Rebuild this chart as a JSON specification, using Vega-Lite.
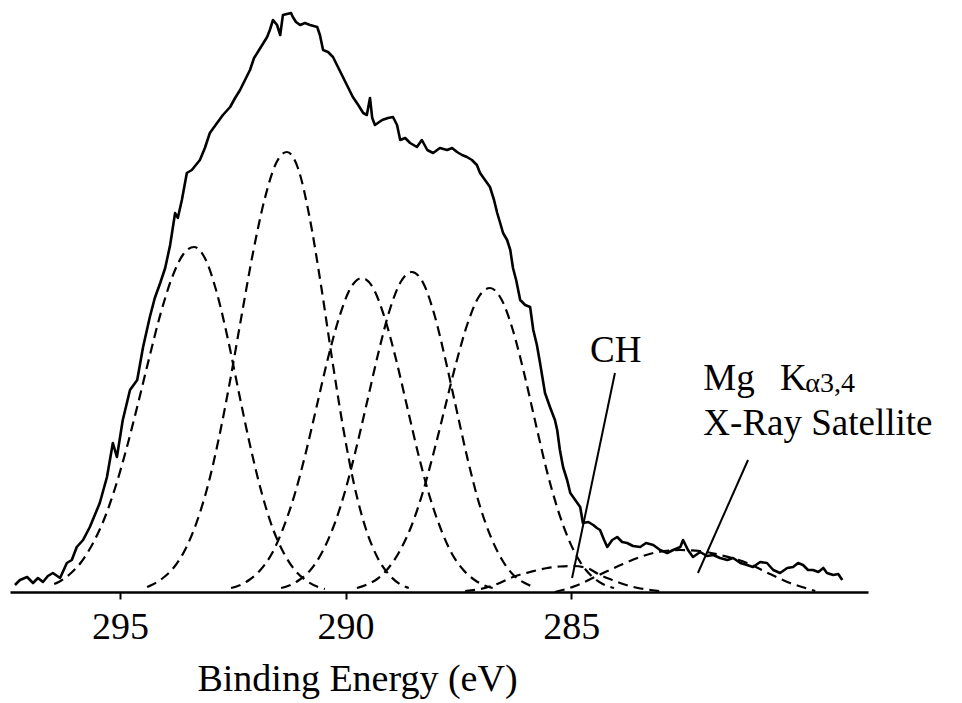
{
  "$schema": "https://vega.github.io/schema/vega-lite/v6.json",
  "width": 858,
  "height": 592,
  "autosize": {"type": "none"},
  "padding": {"left": 10, "top": 0, "right": 94, "bottom": 111},
  "background": "white",
  "config": {"view": {"stroke": null}, "font": "Liberation Serif"},
  "datasets": {
    "spectrum": [
      {"E":297.33,"I":7},{"E":297.22,"I":12},{"E":297.06,"I":15},{"E":296.93,"I":9},{"E":296.82,"I":14},{"E":296.71,"I":10},{"E":296.60,"I":16},{"E":296.49,"I":19},{"E":296.33,"I":14},{"E":296.18,"I":29},{"E":296.07,"I":32},{"E":295.96,"I":45},{"E":295.82,"I":52},{"E":295.67,"I":65},{"E":295.56,"I":77},{"E":295.45,"I":89},{"E":295.29,"I":115},{"E":295.16,"I":149},{"E":295.07,"I":135},{"E":294.94,"I":172},{"E":294.78,"I":202},{"E":294.62,"I":212},{"E":294.49,"I":245},{"E":294.34,"I":275},{"E":294.23,"I":294},{"E":294.11,"I":309},{"E":294.00,"I":324},{"E":293.89,"I":347},{"E":293.78,"I":379},{"E":293.72,"I":374},{"E":293.63,"I":392},{"E":293.52,"I":419},{"E":293.41,"I":422},{"E":293.23,"I":432},{"E":293.12,"I":444},{"E":293.01,"I":459},{"E":292.85,"I":469},{"E":292.72,"I":477},{"E":292.56,"I":485},{"E":292.45,"I":494},{"E":292.34,"I":502},{"E":292.23,"I":512},{"E":292.12,"I":522},{"E":292.03,"I":534},{"E":291.96,"I":539},{"E":291.85,"I":547},{"E":291.74,"I":555},{"E":291.68,"I":562},{"E":291.61,"I":572},{"E":291.52,"I":567},{"E":291.45,"I":557},{"E":291.39,"I":577},{"E":291.30,"I":578},{"E":291.21,"I":579},{"E":291.17,"I":575},{"E":291.10,"I":570},{"E":291.01,"I":567},{"E":290.90,"I":569},{"E":290.79,"I":567},{"E":290.63,"I":565},{"E":290.57,"I":557},{"E":290.50,"I":542},{"E":290.39,"I":540},{"E":290.28,"I":535},{"E":290.17,"I":525},{"E":290.06,"I":515},{"E":289.95,"I":505},{"E":289.84,"I":495},{"E":289.72,"I":487},{"E":289.61,"I":479},{"E":289.53,"I":477},{"E":289.46,"I":494},{"E":289.41,"I":474},{"E":289.35,"I":467},{"E":289.19,"I":472},{"E":289.06,"I":474},{"E":288.95,"I":475},{"E":288.86,"I":467},{"E":288.79,"I":452},{"E":288.68,"I":454},{"E":288.57,"I":449},{"E":288.42,"I":445},{"E":288.31,"I":452},{"E":288.19,"I":442},{"E":288.06,"I":439},{"E":287.91,"I":444},{"E":287.75,"I":442},{"E":287.64,"I":444},{"E":287.53,"I":440},{"E":287.42,"I":437},{"E":287.31,"I":435},{"E":287.20,"I":432},{"E":287.09,"I":427},{"E":287.02,"I":419},{"E":286.91,"I":412},{"E":286.80,"I":405},{"E":286.71,"I":392},{"E":286.64,"I":379},{"E":286.58,"I":370},{"E":286.51,"I":359},{"E":286.42,"I":352},{"E":286.35,"I":342},{"E":286.29,"I":324},{"E":286.22,"I":312},{"E":286.13,"I":292},{"E":286.02,"I":287},{"E":285.91,"I":285},{"E":285.84,"I":262},{"E":285.76,"I":247},{"E":285.69,"I":229},{"E":285.58,"I":199},{"E":285.47,"I":185},{"E":285.36,"I":172},{"E":285.31,"I":162},{"E":285.25,"I":142},{"E":285.18,"I":125},{"E":285.09,"I":112},{"E":285.02,"I":99},{"E":284.91,"I":92},{"E":284.80,"I":85},{"E":284.74,"I":69},{"E":284.62,"I":70},{"E":284.51,"I":67},{"E":284.43,"I":64},{"E":284.36,"I":62},{"E":284.27,"I":52},{"E":284.20,"I":45},{"E":284.09,"I":52},{"E":283.98,"I":55},{"E":283.87,"I":50},{"E":283.76,"I":49},{"E":283.63,"I":46},{"E":283.47,"I":45},{"E":283.34,"I":49},{"E":283.18,"I":47},{"E":283.03,"I":42},{"E":282.87,"I":39},{"E":282.74,"I":42},{"E":282.58,"I":45},{"E":282.52,"I":52},{"E":282.41,"I":42},{"E":282.30,"I":35},{"E":282.14,"I":40},{"E":281.99,"I":36},{"E":281.85,"I":37},{"E":281.70,"I":34},{"E":281.54,"I":32},{"E":281.41,"I":34},{"E":281.25,"I":29},{"E":281.10,"I":27},{"E":280.97,"I":25},{"E":280.81,"I":30},{"E":280.66,"I":29},{"E":280.52,"I":22},{"E":280.37,"I":19},{"E":280.21,"I":24},{"E":280.08,"I":25},{"E":279.97,"I":29},{"E":279.86,"I":27},{"E":279.75,"I":22},{"E":279.64,"I":22},{"E":279.52,"I":20},{"E":279.41,"I":24},{"E":279.33,"I":19},{"E":279.19,"I":17},{"E":279.08,"I":18},{"E":278.99,"I":12}
    ],
    "components": [
      {"peak":"C1","E":296.46,"I":8},{"peak":"C1","E":296.36,"I":10},{"peak":"C1","E":296.11,"I":18},{"peak":"C1","E":295.86,"I":30},{"peak":"C1","E":295.61,"I":48},{"peak":"C1","E":295.36,"I":72},{"peak":"C1","E":295.11,"I":104},{"peak":"C1","E":294.86,"I":143},{"peak":"C1","E":294.61,"I":187},{"peak":"C1","E":294.36,"I":233},{"peak":"C1","E":294.11,"I":277},{"peak":"C1","E":293.86,"I":313},{"peak":"C1","E":293.61,"I":337},{"peak":"C1","E":293.36,"I":345},{"peak":"C1","E":293.11,"I":333},{"peak":"C1","E":292.86,"I":300},{"peak":"C1","E":292.61,"I":253},{"peak":"C1","E":292.36,"I":198},{"peak":"C1","E":292.11,"I":145},{"peak":"C1","E":291.86,"I":99},{"peak":"C1","E":291.61,"I":63},{"peak":"C1","E":291.36,"I":38},{"peak":"C1","E":291.11,"I":21},{"peak":"C1","E":290.86,"I":11},{"peak":"C1","E":290.61,"I":5},{"peak":"C1","E":290.46,"I":3},
      {"peak":"C2","E":294.40,"I":5},{"peak":"C2","E":294.30,"I":7},{"peak":"C2","E":294.05,"I":14},{"peak":"C2","E":293.80,"I":25},{"peak":"C2","E":293.55,"I":43},{"peak":"C2","E":293.30,"I":70},{"peak":"C2","E":293.05,"I":107},{"peak":"C2","E":292.80,"I":156},{"peak":"C2","E":292.55,"I":214},{"peak":"C2","E":292.30,"I":278},{"peak":"C2","E":292.05,"I":340},{"peak":"C2","E":291.80,"I":392},{"peak":"C2","E":291.55,"I":428},{"peak":"C2","E":291.30,"I":440},{"peak":"C2","E":291.05,"I":423},{"peak":"C2","E":290.80,"I":375},{"peak":"C2","E":290.55,"I":308},{"peak":"C2","E":290.30,"I":233},{"peak":"C2","E":290.05,"I":163},{"peak":"C2","E":289.80,"I":105},{"peak":"C2","E":289.55,"I":63},{"peak":"C2","E":289.30,"I":35},{"peak":"C2","E":289.05,"I":18},{"peak":"C2","E":288.80,"I":8},{"peak":"C2","E":288.60,"I":4},
      {"peak":"C3","E":292.54,"I":4},{"peak":"C3","E":292.39,"I":6},{"peak":"C3","E":292.14,"I":12},{"peak":"C3","E":291.89,"I":22},{"peak":"C3","E":291.64,"I":38},{"peak":"C3","E":291.39,"I":63},{"peak":"C3","E":291.14,"I":96},{"peak":"C3","E":290.89,"I":138},{"peak":"C3","E":290.64,"I":186},{"peak":"C3","E":290.39,"I":234},{"peak":"C3","E":290.14,"I":275},{"peak":"C3","E":289.89,"I":304},{"peak":"C3","E":289.64,"I":314},{"peak":"C3","E":289.39,"I":304},{"peak":"C3","E":289.14,"I":275},{"peak":"C3","E":288.89,"I":234},{"peak":"C3","E":288.64,"I":186},{"peak":"C3","E":288.39,"I":138},{"peak":"C3","E":288.14,"I":96},{"peak":"C3","E":287.89,"I":63},{"peak":"C3","E":287.64,"I":38},{"peak":"C3","E":287.39,"I":22},{"peak":"C3","E":287.14,"I":12},{"peak":"C3","E":286.89,"I":6},{"peak":"C3","E":286.74,"I":4},
      {"peak":"C4","E":291.43,"I":4},{"peak":"C4","E":291.28,"I":6},{"peak":"C4","E":291.03,"I":12},{"peak":"C4","E":290.78,"I":22},{"peak":"C4","E":290.53,"I":39},{"peak":"C4","E":290.28,"I":64},{"peak":"C4","E":290.03,"I":98},{"peak":"C4","E":289.78,"I":141},{"peak":"C4","E":289.53,"I":189},{"peak":"C4","E":289.28,"I":238},{"peak":"C4","E":289.03,"I":281},{"peak":"C4","E":288.78,"I":310},{"peak":"C4","E":288.53,"I":320},{"peak":"C4","E":288.28,"I":309},{"peak":"C4","E":288.03,"I":277},{"peak":"C4","E":287.78,"I":231},{"peak":"C4","E":287.53,"I":180},{"peak":"C4","E":287.28,"I":130},{"peak":"C4","E":287.03,"I":87},{"peak":"C4","E":286.78,"I":55},{"peak":"C4","E":286.53,"I":32},{"peak":"C4","E":286.28,"I":17},{"peak":"C4","E":286.03,"I":9},{"peak":"C4","E":285.83,"I":5},
      {"peak":"C5","E":289.75,"I":4},{"peak":"C5","E":289.55,"I":7},{"peak":"C5","E":289.30,"I":13},{"peak":"C5","E":289.05,"I":24},{"peak":"C5","E":288.80,"I":41},{"peak":"C5","E":288.55,"I":65},{"peak":"C5","E":288.30,"I":98},{"peak":"C5","E":288.05,"I":139},{"peak":"C5","E":287.80,"I":184},{"peak":"C5","E":287.55,"I":229},{"peak":"C5","E":287.30,"I":268},{"peak":"C5","E":287.05,"I":295},{"peak":"C5","E":286.80,"I":304},{"peak":"C5","E":286.55,"I":293},{"peak":"C5","E":286.30,"I":263},{"peak":"C5","E":286.05,"I":220},{"peak":"C5","E":285.80,"I":171},{"peak":"C5","E":285.55,"I":123},{"peak":"C5","E":285.30,"I":83},{"peak":"C5","E":285.05,"I":52},{"peak":"C5","E":284.80,"I":30},{"peak":"C5","E":284.55,"I":16},{"peak":"C5","E":284.30,"I":8},{"peak":"C5","E":284.05,"I":4},
      {"peak":"CH","E":287.35,"I":1},{"peak":"CH","E":287.02,"I":3},{"peak":"CH","E":286.64,"I":8},{"peak":"CH","E":286.29,"I":15},{"peak":"CH","E":285.91,"I":20},{"peak":"CH","E":285.53,"I":24},{"peak":"CH","E":285.25,"I":25.5},{"peak":"CH","E":284.96,"I":26},{"peak":"CH","E":284.65,"I":24},{"peak":"CH","E":284.36,"I":17},{"peak":"CH","E":284.09,"I":12},{"peak":"CH","E":283.85,"I":8},{"peak":"CH","E":283.52,"I":4},{"peak":"CH","E":283.14,"I":1.5},{"peak":"CH","E":282.92,"I":0},
      {"peak":"Sat","E":285.36,"I":0},{"peak":"Sat","E":284.91,"I":6},{"peak":"Sat","E":284.43,"I":16},{"peak":"Sat","E":283.85,"I":28},{"peak":"Sat","E":283.18,"I":39},{"peak":"Sat","E":282.58,"I":42},{"peak":"Sat","E":282.14,"I":41},{"peak":"Sat","E":281.70,"I":37},{"peak":"Sat","E":281.10,"I":29},{"peak":"Sat","E":280.59,"I":18},{"peak":"Sat","E":280.15,"I":9},{"peak":"Sat","E":279.81,"I":4},{"peak":"Sat","E":279.59,"I":1}
    ],
    "labels": [
      {"E":284.58,"I":230,"text":"CH","kind":"main"},
      {"E":282.07,"I":202,"text":"Mg","kind":"main"},
      {"E":280.37,"I":202,"text":"K","kind":"main"},
      {"E":279.81,"I":200,"text":"α3,4","kind":"sub"},
      {"E":282.07,"I":157,"text":"X-Ray Satellite","kind":"main"}
    ],
    "leaders": [
      {"E":284.03,"I":219,"E2":284.98,"I2":14},
      {"E":281.08,"I":132,"E2":282.19,"I2":19}
    ]
  },
  "encoding": {
    "x": {
      "field": "E", "type": "quantitative",
      "scale": {"domain": [278.42, 297.44], "reverse": true, "nice": false, "zero": false},
      "axis": {
        "title": "Binding Energy (eV)",
        "values": [295, 290, 285],
        "grid": false,
        "domainColor": "black", "domainWidth": 2.5,
        "tickColor": "black", "tickWidth": 2, "tickSize": 7,
        "labelFont": "Liberation Serif", "labelFontSize": 38, "labelColor": "black",
        "labelBaseline": "alphabetic", "labelPadding": 39,
        "titleFont": "Liberation Serif", "titleFontSize": 38, "titleFontWeight": "normal", "titleColor": "black",
        "titleX": 347, "titleY": 98, "titleAlign": "center", "titleBaseline": "alphabetic"
      }
    },
    "y": {
      "field": "I", "type": "quantitative",
      "scale": {"domain": [0, 592], "nice": false, "zero": true},
      "axis": null
    }
  },
  "layer": [
    {
      "data": {"name": "components"},
      "mark": {"type": "line", "interpolate": "monotone", "color": "black", "strokeWidth": 2.2, "strokeDash": [10, 6]},
      "encoding": {"detail": {"field": "peak"}}
    },
    {
      "data": {"name": "spectrum"},
      "mark": {"type": "line", "color": "black", "strokeWidth": 2.6, "strokeJoin": "round"}
    },
    {
      "data": {"name": "leaders"},
      "mark": {"type": "rule", "color": "black", "strokeWidth": 2},
      "encoding": {"x2": {"field": "E2"}, "y2": {"field": "I2"}}
    },
    {
      "data": {"name": "labels"},
      "transform": [{"filter": "datum.kind === 'main'"}],
      "mark": {"type": "text", "align": "left", "baseline": "alphabetic", "font": "Liberation Serif", "fontSize": 37, "color": "black"},
      "encoding": {"text": {"field": "text"}}
    },
    {
      "data": {"name": "labels"},
      "transform": [{"filter": "datum.kind === 'sub'"}],
      "mark": {"type": "text", "align": "left", "baseline": "alphabetic", "font": "Liberation Serif", "fontSize": 28, "color": "black"},
      "encoding": {"text": {"field": "text"}}
    }
  ]
}
